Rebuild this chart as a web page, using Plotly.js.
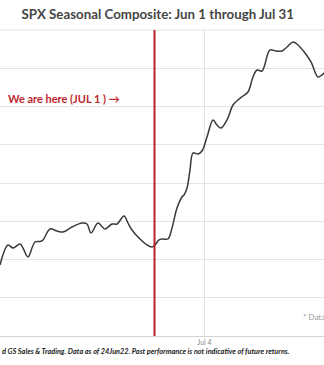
<!DOCTYPE html>
<html>
<head>
<meta charset="utf-8">
<script src="https://cdn.plot.ly/plotly-3.0.1.min.js"></script>
<style>html,body{margin:0;padding:0;background:#fff;}#chart{width:324px;height:365px;}</style>
</head>
<body>
<div id="chart"></div>
<script>
// x: days after Jun 1 (Jun 1 = 0, Jul 1 = 30, Jul 4 = 33)
const days = [20.73,21.21,21.51,21.93,22.11,22.41,22.83,23.25,23.73,24.15,24.51,25.05,25.65,25.95,26.19,26.61,27.03,27.45,27.75,28.17,28.41,28.65,29.01,29.55,29.85,30.03,30.27,30.51,30.81,31.05,31.35,31.65,31.77,31.95,32.13,32.31,32.61,32.85,33.15,33.51,33.75,33.99,34.35,34.71,35.01,35.31,35.61,35.91,36.15,36.45,36.93,37.29,37.65,37.95,38.31,38.61,39.03,39.39,39.81,40.05,40.17,40.4];
const composite = [0.928,1.190,1.150,1.203,1.150,1.033,1.229,1.242,1.399,1.373,1.359,1.425,1.477,1.464,1.346,1.477,1.399,1.464,1.464,1.569,1.477,1.386,1.294,1.190,1.163,1.190,1.255,1.268,1.268,1.412,1.673,1.817,1.843,1.935,2.170,2.392,2.379,2.418,2.601,2.824,2.758,2.719,2.824,3.020,3.085,3.137,3.190,3.386,3.477,3.464,3.739,3.725,3.725,3.778,3.843,3.804,3.699,3.582,3.386,3.412,3.438,3.47];
const tickDays = [33];
const tickLabels = ['Jul 4'];
const hereDay = 30; // Jul 1
const titleText = 'SPX Seasonal Composite: Jun 1 through Jul 31';
const hereText = 'We are here (JUL 1 ) \u2192';
const noteText = 'd GS Sales &amp; Trading. Data as of 24Jun22. Past performance is not indicative of future returns.';
const dataNote = '* Data';

const trace = {
  x: days, y: composite, type: 'scatter', mode: 'lines',
  line: {color: '#3a3a3a', width: 1.5, shape: 'spline', smoothing: 1},
  hoverinfo: 'skip'
};

const layout = {
  width: 324, height: 365,
  margin: {l: 0, r: 0, t: 30, b: 29},
  paper_bgcolor: '#ffffff', plot_bgcolor: '#ffffff',
  showlegend: false,
  title: {text: titleText, x: 0.487, xanchor: 'center', y: 0.962, yanchor: 'middle',
          font: {family: 'Lato', size: 13.3, color: '#454545', weight: 'bold'}},
  xaxis: {range: [20.73, 40.17], tickvals: tickDays, ticktext: tickLabels,
          showgrid: true, gridcolor: '#e3e3e3', gridwidth: 1, zeroline: false,
          showline: true, linecolor: '#d6d6d6', linewidth: 1, ticks: '',
          tickfont: {family: 'Lato', size: 7, color: '#8a8a8a'}},
  yaxis: {range: [0, 4], dtick: 0.5, showticklabels: false, showgrid: true,
          gridcolor: '#e3e3e3', gridwidth: 1, zeroline: false, showline: false, ticks: ''},
  shapes: [
    {type: 'line', xref: 'x', yref: 'paper', x0: hereDay, x1: hereDay, y0: 0, y1: 1,
     line: {color: '#b8262d', width: 2}},
    {type: 'line', xref: 'paper', yref: 'paper', x0: 0, x1: 1, y0: 1, y1: 1,
     line: {color: '#e3e3e3', width: 1}, layer: 'below'}
  ],
  annotations: [
    {text: '<b>' + hereText + '</b>', xref: 'paper', yref: 'paper', x: 6/324, y: (336-99)/306,
     xanchor: 'left', yanchor: 'middle', showarrow: false,
     font: {family: 'Lato', size: 11, color: '#c0272d'}},
    {text: '<b><i>' + noteText + '</i></b>', xref: 'paper', yref: 'paper', x: 0, y: (336-351)/306,
     xanchor: 'left', yanchor: 'middle', showarrow: false,
     font: {family: 'Lato', size: 7.3, color: '#222222'}},
    {text: dataNote, xref: 'paper', yref: 'paper', x: 301/324, y: (336-317)/306,
     xanchor: 'left', yanchor: 'middle', showarrow: false,
     font: {family: 'Lato', size: 8, color: '#9a9a9a'}}
  ]
};

Plotly.newPlot('chart', [trace], layout, {displayModeBar: false, staticPlot: true});
</script>
</body>
</html>
